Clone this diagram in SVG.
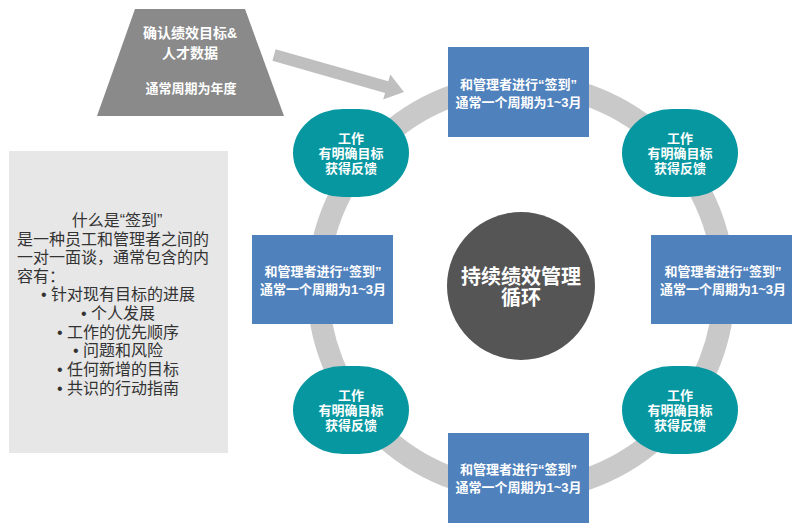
<svg xmlns="http://www.w3.org/2000/svg" width="800" height="527" viewBox="0 0 800 527">
<style>
text{font-family:"Liberation Sans","Noto Sans CJK SC",sans-serif;}
.box{fill:#4F81BD;}
.pill{fill:#0797A0;}
.wt{fill:#FFFFFF;font-weight:bold;font-size:13px;text-anchor:middle;}
.wl{fill:#FFFFFF;font-weight:bold;font-size:14px;text-anchor:middle;}
.pt{fill:#FFFFFF;font-weight:bold;font-size:13px;text-anchor:middle;}
.lt{fill:#333333;font-size:16px;}
.ltc{fill:#333333;font-size:16px;text-anchor:middle;}
</style>
<rect width="800" height="527" fill="#FFFFFF"/>
<g id="connectors">
<circle cx="521" cy="287" r="203" fill="none" stroke="#C9C9C9" stroke-width="22"/>
<polygon points="275.6,49.2 388.3,81.3 390.3,74.6 404,92 383.1,99.6 385.1,92.9 272.4,60.8" fill="#BFBFBF"/>
</g>
<g id="source">
<polygon points="135,9 245,9 284,116 97,116" fill="#8A8A8A"/>
<text class="wl" x="190" y="38">确认绩效目标&amp;</text>
<text class="wl" x="190" y="58">人才数据</text>
<text class="wt" x="191" y="92.5">通常周期为年度</text>
</g>
<g id="checkin-info">
<rect x="9" y="151" width="219" height="302" fill="#E7E7E7"/>
<text class="ltc" x="117" y="226">什么是“签到”</text>
<text class="lt" x="17" y="244.5">是一种员工和管理者之间的</text>
<text class="lt" x="17" y="263">一对一面谈，通常包含的内</text>
<text class="lt" x="17" y="281.5">容有：</text>
<text class="ltc" x="118" y="300">• 针对现有目标的进展</text>
<text class="ltc" x="118" y="319">• 个人发展</text>
<text class="ltc" x="118" y="337.5">• 工作的优先顺序</text>
<text class="ltc" x="118" y="356">• 问题和风险</text>
<text class="ltc" x="118" y="375">• 任何新增的目标</text>
<text class="ltc" x="118" y="393.5">• 共识的行动指南</text>
</g>
<g id="center">
<circle cx="521" cy="286" r="74" fill="#555555"/>
<text x="521" y="284" fill="#FFFFFF" font-weight="bold" font-size="20" text-anchor="middle">持续绩效管理</text>
<text x="521" y="305" fill="#FFFFFF" font-weight="bold" font-size="20" text-anchor="middle">循环</text>
</g>
<g id="checkin-top">
<rect class="box" x="448" y="47" width="141" height="90"/>
<text class="wt" x="518.5" y="88.5">和管理者进行“签到”</text>
<text class="wt" x="518.5" y="106.5">通常一个周期为1~3月</text>
</g>
<g id="checkin-left">
<rect class="box" x="252" y="235" width="141" height="89"/>
<text class="wt" x="323" y="276">和管理者进行“签到”</text>
<text class="wt" x="323" y="294">通常一个周期为1~3月</text>
</g>
<g id="checkin-right">
<rect class="box" x="651" y="235" width="141" height="89"/>
<text class="wt" x="723" y="276">和管理者进行“签到”</text>
<text class="wt" x="723" y="294">通常一个周期为1~3月</text>
</g>
<g id="checkin-bottom">
<rect class="box" x="448" y="433" width="141" height="90"/>
<text class="wt" x="518.5" y="474">和管理者进行“签到”</text>
<text class="wt" x="518.5" y="492">通常一个周期为1~3月</text>
</g>
<g id="work-top-left">
<rect class="pill" x="293" y="109" width="116" height="88" rx="50" ry="44"/>
<text class="pt" x="351" y="143">工作</text>
<text class="pt" x="351" y="158">有明确目标</text>
<text class="pt" x="351" y="173">获得反馈</text>
</g>
<g id="work-top-right">
<rect class="pill" x="622" y="109" width="116" height="88" rx="50" ry="44"/>
<text class="pt" x="680" y="143">工作</text>
<text class="pt" x="680" y="158">有明确目标</text>
<text class="pt" x="680" y="173">获得反馈</text>
</g>
<g id="work-bottom-left">
<rect class="pill" x="293" y="366" width="116" height="88" rx="50" ry="44"/>
<text class="pt" x="351" y="400">工作</text>
<text class="pt" x="351" y="415">有明确目标</text>
<text class="pt" x="351" y="430">获得反馈</text>
</g>
<g id="work-bottom-right">
<rect class="pill" x="622" y="366" width="116" height="88" rx="50" ry="44"/>
<text class="pt" x="680" y="400">工作</text>
<text class="pt" x="680" y="415">有明确目标</text>
<text class="pt" x="680" y="430">获得反馈</text>
</g>
</svg>
